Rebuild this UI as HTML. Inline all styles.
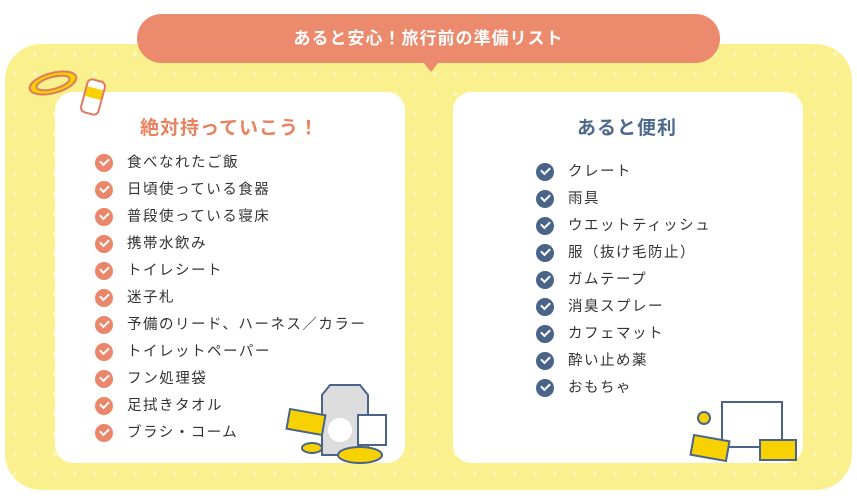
<!DOCTYPE html>
<html><head><meta charset="utf-8"><style>
body{margin:0;width:857px;height:498px;background:#fff;position:relative;overflow:hidden;font-family:"Liberation Sans","Noto Sans CJK JP",sans-serif}
.bg{position:absolute;left:5px;top:44px;width:847px;height:446px;border-radius:36px;background-color:#faf18e;background-image:radial-gradient(circle,#fff8c8 1.6px,transparent 2px);background-size:20px 20px}
.pill{position:absolute;left:137px;top:14px;width:583px;height:49px;border-radius:25px;background:#ec8a6e;color:#fff;font-size:17px;font-weight:bold;text-align:center;line-height:49px;letter-spacing:1px}
.tail{position:absolute;left:423px;top:62px;width:0;height:0;border-left:8px solid transparent;border-right:8px solid transparent;border-top:10px solid #ec8a6e}
.card{position:absolute;top:92px;width:350px;height:371px;background:#fff;border-radius:18px}
h2{position:absolute;margin:0;font-size:19px;font-weight:bold;letter-spacing:1px}
.it{position:absolute;font-size:14.5px;color:#333;letter-spacing:1.5px;height:20px;line-height:20px}
.it i{position:absolute;left:-32px;top:1px;width:18px;height:18px;border-radius:50%}
.it i:after{content:"";position:absolute;left:5px;top:4px;width:7px;height:4px;border-left:2.5px solid #fff;border-bottom:2.5px solid #fff;transform:rotate(-45deg)}
.o i{background:#ea866a}.b i{background:#4a6489}
</style></head><body>
<div class="bg"></div>
<div class="pill">あると安心！旅行前の準備リスト</div>
<div class="tail"></div>
<div class="card" style="left:55px"></div>
<div class="card" style="left:453px"></div>
<h2 style="left:140px;top:113px;color:#e8825f">絶対持っていこう！</h2>
<h2 style="left:577px;top:113px;color:#4d6a8c">あると便利</h2>
<div class="o">
<div class="it" style="left:127px;top:153px"><i></i>食べなれたご飯</div>
<div class="it" style="left:127px;top:180px"><i></i>日頃使っている食器</div>
<div class="it" style="left:127px;top:207px"><i></i>普段使っている寝床</div>
<div class="it" style="left:127px;top:234px"><i></i>携帯水飲み</div>
<div class="it" style="left:127px;top:261px"><i></i>トイレシート</div>
<div class="it" style="left:127px;top:288px"><i></i>迷子札</div>
<div class="it" style="left:127px;top:315px"><i></i>予備のリード、ハーネス／カラー</div>
<div class="it" style="left:127px;top:342px"><i></i>トイレットペーパー</div>
<div class="it" style="left:127px;top:369px"><i></i>フン処理袋</div>
<div class="it" style="left:127px;top:396px"><i></i>足拭きタオル</div>
<div class="it" style="left:127px;top:423px"><i></i>ブラシ・コーム</div>
</div>
<div class="b">
<div class="it" style="left:568px;top:162px"><i></i>クレート</div>
<div class="it" style="left:568px;top:189px"><i></i>雨具</div>
<div class="it" style="left:568px;top:216px"><i></i>ウエットティッシュ</div>
<div class="it" style="left:568px;top:243px"><i></i>服（抜け毛防止）</div>
<div class="it" style="left:568px;top:270px"><i></i>ガムテープ</div>
<div class="it" style="left:568px;top:297px"><i></i>消臭スプレー</div>
<div class="it" style="left:568px;top:324px"><i></i>カフェマット</div>
<div class="it" style="left:568px;top:351px"><i></i>酔い止め薬</div>
<div class="it" style="left:568px;top:378px"><i></i>おもちゃ</div>
</div>
<svg width="857" height="498" style="position:absolute;left:0;top:0">
<g stroke="#e07a5f" stroke-width="2" fill="none">
<ellipse cx="53" cy="83" rx="24" ry="10" transform="rotate(-15 53 83)" fill="#f7d200"/>
<ellipse cx="53" cy="83" rx="17" ry="6" transform="rotate(-15 53 83)" fill="#faf18e"/>
<rect x="84" y="80" width="18" height="34" rx="5" transform="rotate(15 93 97)" fill="#fff"/>
<rect x="85" y="88" width="16" height="10" transform="rotate(15 93 97)" fill="#f7d200" stroke="none"/>
</g>
<g stroke="#4a6489" stroke-width="2">
<path d="M322 395 L330 385 L360 385 L368 395 L368 455 L322 455Z" fill="#ddd"/>
<rect x="358" y="415" width="28" height="30" fill="#fff"/>
<circle cx="340" cy="430" r="12" fill="#fff" stroke="none"/>
<rect x="288" y="412" width="36" height="20" fill="#f7d200" transform="rotate(10 306 422)"/>
<ellipse cx="360" cy="455" rx="22" ry="8" fill="#f7d200"/>
<ellipse cx="312" cy="448" rx="10" ry="5" fill="#f7d200"/>
<rect x="722" y="402" width="60" height="45" fill="#fff"/>
<rect x="692" y="438" width="36" height="20" fill="#f7d200" transform="rotate(10 710 448)"/>
<rect x="760" y="440" width="36" height="20" fill="#f7d200"/>
<circle cx="704" cy="418" r="6" fill="#f7d200"/>
</g>
</svg>
</body></html>
